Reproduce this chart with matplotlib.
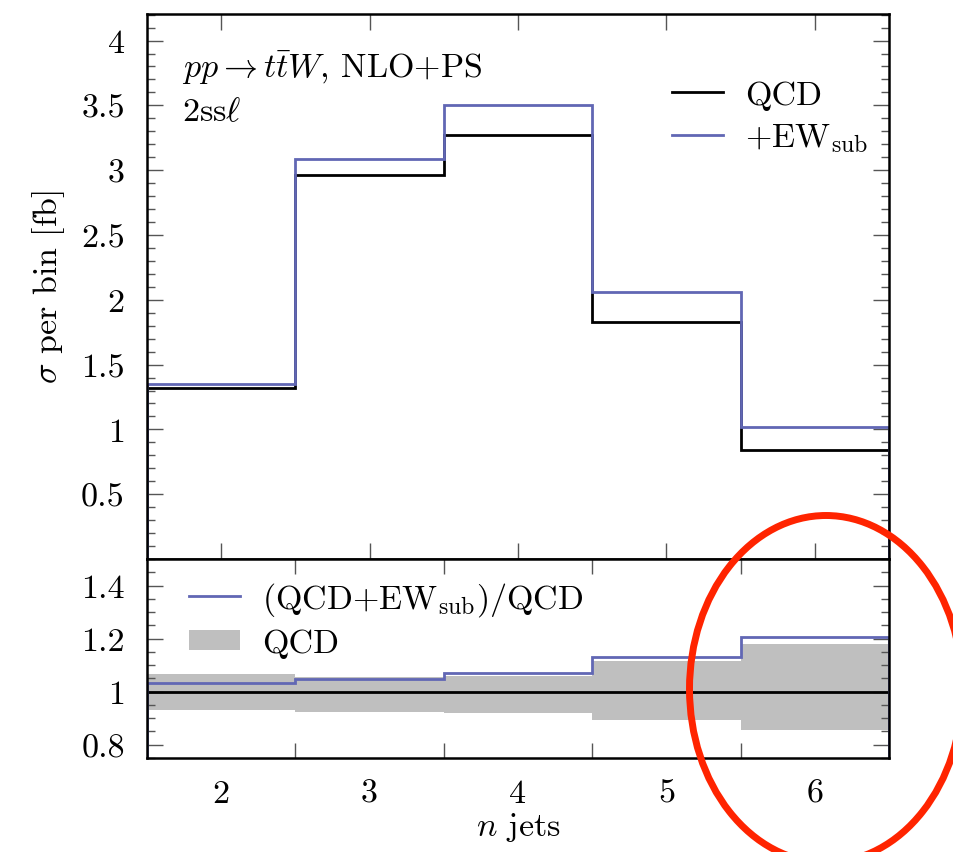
import numpy as np
import matplotlib
matplotlib.use("Agg")
import matplotlib.pyplot as plt
from matplotlib.lines import Line2D
from matplotlib.patches import Patch, Ellipse
from matplotlib.ticker import FixedLocator, MultipleLocator, FuncFormatter

plt.rcParams['font.family'] = ['cmr10', 'DejaVu Serif']
plt.rcParams['mathtext.fontset'] = 'cm'
plt.rcParams['axes.formatter.use_mathtext'] = True
plt.rcParams['font.size'] = 24.5

# ---- data ----
n_jets = [2, 3, 4, 5, 6]
qcd = [1.32, 2.96, 3.27, 1.83, 0.84]
qcd_ew = [1.35, 3.09, 3.50, 2.06, 1.02]
ratio_ew = [1.031, 1.046, 1.071, 1.129, 1.207]
band_up = [1.065, 1.055, 1.060, 1.116, 1.181]
band_lo = [0.930, 0.925, 0.918, 0.894, 0.856]
main_yticks = [0.5, 1, 1.5, 2, 2.5, 3, 3.5, 4]
ratio_yticks = [0.8, 1.0, 1.2, 1.4]

edges = np.array([n - 0.5 for n in n_jets] + [n_jets[-1] + 0.5])
inner_edges = edges[1:-1]

BLUE = '#6167b4'
GREY = '#bfbfbf'
TICKC = '#555555'

W, H = 954, 853
fig = plt.figure(figsize=(W / 100, H / 100), dpi=100)

L, R = 147, 889
ax = fig.add_axes([L / W, 1 - 560 / H, (R - L) / W, (560 - 15) / H])
ax2 = fig.add_axes([L / W, 1 - 759 / H, (R - L) / W, (759 - 560) / H], sharex=ax)

# main panel
ax.stairs(qcd, edges, baseline=0, color='black', lw=2.0, zorder=3)
ax.stairs(qcd_ew, edges, baseline=0, color=BLUE, lw=2.0, zorder=4)
ax.set_xlim(edges[0], edges[-1])
ax.set_ylim(0.0, 4.205)

fmt = FuncFormatter(lambda v, p: '{:g}'.format(round(v, 3)))
ax.yaxis.set_major_locator(FixedLocator(main_yticks))
ax.yaxis.set_minor_locator(MultipleLocator(0.1))
ax.yaxis.set_major_formatter(fmt)
ax.set_xticks(inner_edges)
ax.tick_params(axis='x', which='major', direction='in', top=True, bottom=True,
               length=11.5, width=1.0, color=TICKC, labelbottom=False)
ax.tick_params(axis='y', which='major', direction='in', left=True, right=True,
               length=11.5, width=1.0, color=TICKC, pad=16)
ax.tick_params(axis='y', which='minor', direction='in', left=True, right=True,
               length=6, width=1.0, color=TICKC)
ax.set_ylabel(r'$\sigma$ per bin [fb]')
ax.yaxis.set_label_coords(-0.108, 0.5)

ax.text(0.047, 0.884, r'$pp \rightarrow t\bar{t}W$, NLO+PS', transform=ax.transAxes,
        ha='left', va='baseline')
ax.text(0.047, 0.806, r'2ss$\ell$', transform=ax.transAxes, ha='left', va='baseline')

h1 = [Line2D([], [], color='black', lw=2.0), Line2D([], [], color=BLUE, lw=2.0)]
leg = ax.legend(h1, ['QCD', r'+EW$_{\rm sub}$'], loc='upper left',
                bbox_to_anchor=(0.7075, 0.879), frameon=False, borderpad=0,
                borderaxespad=0, handlelength=1.5, handletextpad=0.65,
                labelspacing=0.35)

# ratio panel
ax2.stairs(band_up, edges, baseline=band_lo, fill=True, color=GREY, lw=0, zorder=1)
ax2.stairs([1.0] * len(n_jets), edges, baseline=None, color='black', lw=2.0, zorder=3)
ax2.stairs(ratio_ew, edges, baseline=0, color=BLUE, lw=2.0, zorder=4)
ax2.set_ylim(0.75, 1.5)
ax2.yaxis.set_major_locator(FixedLocator(ratio_yticks))
ax2.yaxis.set_minor_locator(MultipleLocator(0.05))
ax2.yaxis.set_major_formatter(fmt)
ax2.set_xticks(n_jets)
ax2.set_xticklabels([str(n) for n in n_jets])
ax2.set_xticks(inner_edges, minor=True)
ax2.tick_params(axis='x', which='major', length=0, pad=15)
ax2.tick_params(axis='x', which='minor', direction='in', top=True, bottom=True,
                length=11, width=1.0, color=TICKC)
ax2.tick_params(axis='y', which='major', direction='in', left=True, right=True,
                length=11.5, width=1.0, color=TICKC, pad=16)
ax2.tick_params(axis='y', which='minor', direction='in', left=True, right=True,
                length=6, width=1.0, color=TICKC)
ax2.set_xlabel(r'$n$ jets')
ax2.xaxis.set_label_coords(0.5, -0.262)

h2 = [Line2D([], [], color=BLUE, lw=2.0), Patch(facecolor=GREY, edgecolor='none')]
ax2.legend(h2, [r'(QCD+EW$_{\rm sub}$)/QCD', 'QCD'], loc='upper left',
           bbox_to_anchor=(0.0566, 0.895), frameon=False, borderpad=0,
           borderaxespad=0, handlelength=1.5, handletextpad=0.65,
           labelspacing=0.32, handleheight=0.5)

for a in (ax, ax2):
    for s in a.spines.values():
        s.set_linewidth(1.8)
        s.set_zorder(5)

# red annotation ellipse
ell = Ellipse((826 / W, 1 - 690 / H), 273 / W, 347 / H, transform=fig.transFigure,
              fill=False, edgecolor='#ff2400', lw=5.0, zorder=10)
fig.add_artist(ell)

fig.savefig('out.png', dpi=100)
